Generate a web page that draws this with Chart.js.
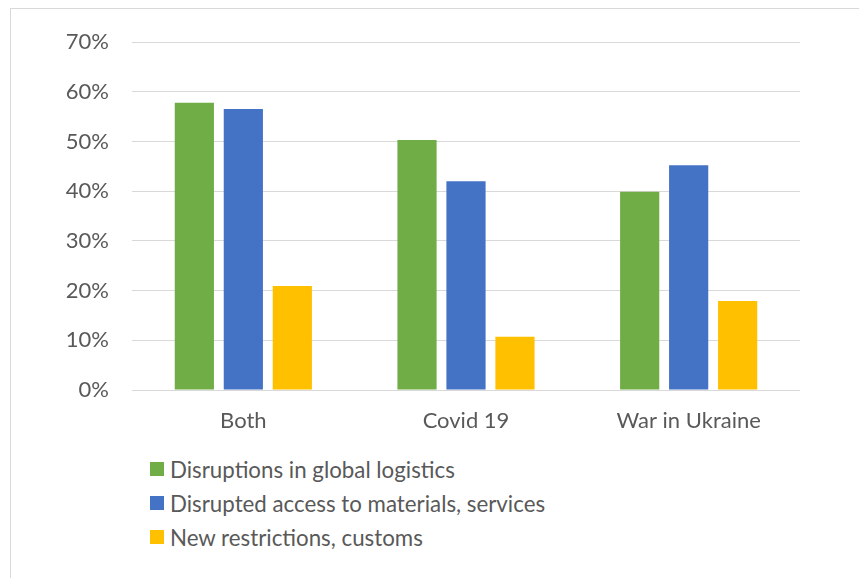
<!DOCTYPE html>
<html><head><meta charset="utf-8">
<script src="https://cdn.jsdelivr.net/npm/chart.js@4"></script>
<style>
html,body{margin:0;padding:0;background:#fff;overflow:hidden;width:859px;height:578px}
#frame{position:absolute;left:10px;top:8px;width:900px;height:620px;border:1px solid #d9d9d9;}
#wrap{position:absolute;left:0;top:0;width:859px;height:450px}
#legend{position:absolute;left:150px;top:452px;font-family:Lato,sans-serif;font-size:22.3px;color:#595959}
.item{height:34px;display:flex;align-items:center;white-space:nowrap}
.box{width:14px;height:14px;margin-right:6px;flex:none}
</style>
</head><body>
<div id="frame"></div>
<div id="wrap"><canvas id="c" width="859" height="450"></canvas></div>
<div id="legend"></div>
<script>
const categories = ["Both", "Covid 19", "War in Ukraine"];
const seriesNames = ["Disruptions in global logistics", "Disrupted access to materials, services", "New restrictions, customs"];
const logistics = [57.8, 50.3, 39.9];
const access = [56.5, 42.0, 45.2];
const restrictions = [20.9, 10.7, 17.9];
const colors = ["#70AD47", "#4472C4", "#FFC000"];
const yTicks = [0, 10, 20, 30, 40, 50, 60, 70];

const font = {family: "Lato, sans-serif", size: 22};
const textColor = "#595959";

const chart = new Chart(document.getElementById("c"), {
  type: "bar",
  data: {
    labels: categories,
    datasets: [logistics, access, restrictions].map((d, i) => ({
      label: seriesNames[i], data: d, backgroundColor: colors[i], borderWidth: 0,
      categoryPercentage: 0.66, barPercentage: 0.8
    }))
  },
  options: {
    responsive: false,
    animation: false,
    layout: {padding: {top: 42, right: 59, left: 0, bottom: 0}},
    plugins: {legend: {display: false}, tooltip: {enabled: false}},
    scales: {
      x: {
        grid: {display: false, drawTicks: false},
        border: {display: false},
        ticks: {font: font, color: textColor, padding: 18},
        afterFit: s => { s.height = 60; }
      },
      y: {
        min: yTicks[0], max: yTicks[yTicks.length - 1],
        afterBuildTicks: s => { s.ticks = yTicks.map(v => ({value: v})); },
        grid: {color: "#d9d9d9", lineWidth: 1, drawTicks: false},
        border: {display: false},
        ticks: {font: font, color: textColor, padding: 23, callback: v => v + "%"},
        afterFit: s => { s.width = 132; }
      }
    }
  }
});

const legend = document.getElementById("legend");
chart.data.datasets.forEach(ds => {
  const it = document.createElement("div");
  it.className = "item";
  const b = document.createElement("span");
  b.className = "box";
  b.style.background = ds.backgroundColor;
  const t = document.createElement("span");
  t.textContent = ds.label;
  it.appendChild(b); it.appendChild(t);
  legend.appendChild(it);
});
</script>
</body></html>
